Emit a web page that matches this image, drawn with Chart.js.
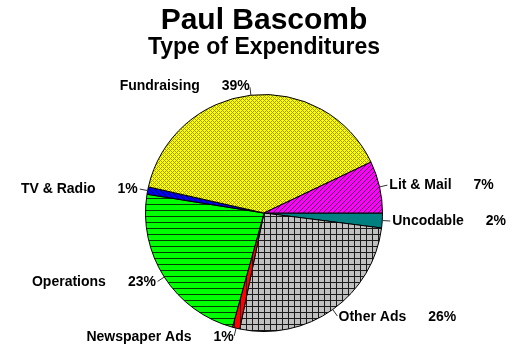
<!DOCTYPE html>
<html>
<head>
<meta charset="utf-8">
<title>Paul Bascomb - Type of Expenditures</title>
<script src="https://cdn.jsdelivr.net/npm/chart.js@4.4.1/dist/chart.umd.min.js"></script>
<style>
    body { margin: 0; background: #fff; }
    #wrap { width: 527px; height: 350px; }
</style>
</head>
<body>
<div id="wrap"><canvas id="pieChart" width="527" height="350"></canvas></div>
<script>
// Chart data (clockwise from 3 o'clock)
const categories = ['Uncodable', 'Other Ads', 'Newspaper Ads', 'Operations', 'TV & Radio', 'Fundraising', 'Lit & Mail'];
const percents = [2, 26, 1, 23, 1, 39, 7];

const FONT = '"Liberation Sans", Arial, Helvetica, sans-serif';

// Build a small repeating fill pattern
function makePattern(size, bg, fg, isInk) {
    const c = document.createElement('canvas');
    c.width = size;
    c.height = size;
    const g = c.getContext('2d');
    g.fillStyle = bg;
    g.fillRect(0, 0, size, size);
    g.fillStyle = fg;
    for (let y = 0; y < size; y++) {
        for (let x = 0; x < size; x++) {
            if (isInk(x, y, size)) g.fillRect(x, y, 1, 1);
        }
    }
    return g.createPattern(c, 'repeat');
}

const fills = {
    'Uncodable': '#008080',
    'Other Ads': makePattern(6, '#c0c0c0', '#1a1a1a', (x, y) => x === 0 || y === 0),
    'Newspaper Ads': makePattern(6, '#ff0000', '#400000', (x) => x === 0),
    'Operations': makePattern(6, '#00ff00', '#004000', (x, y) => y === 0),
    'TV & Radio': makePattern(5, '#0000ff', '#000030', (x, y, s) => ((x - y) % s + s) % s === 0),
    'Fundraising': makePattern(4, '#ffff00', '#9c9c14', (x, y, s) => (x + y) % s === 0 || ((x - y) % s + s) % s === 0),
    'Lit & Mail': makePattern(5, '#ff00ff', '#400040', (x, y, s) => (x + y) % s === 0)
};

// Outside labels with short leader lines
const sliceLabels = {
    id: 'sliceLabels',
    afterDatasetsDraw(chart) {
        const ctx = chart.ctx;
        const meta = chart.getDatasetMeta(0);
        ctx.save();
        ctx.font = 'bold 14px ' + FONT;
        ctx.textBaseline = 'middle';
        ctx.fillStyle = '#000';
        ctx.strokeStyle = '#333';
        ctx.lineWidth = 1;
        meta.data.forEach((arc, i) => {
            const p = arc.getProps(['x', 'y', 'startAngle', 'endAngle', 'outerRadius'], true);
            const mid = (p.startAngle + p.endAngle) / 2;
            const cos = Math.cos(mid), sin = Math.sin(mid);
            const ex = p.x + cos * p.outerRadius, ey = p.y + sin * p.outerRadius;
            ctx.beginPath();
            ctx.moveTo(ex, ey);
            ctx.lineTo(ex + cos * 8, ey + sin * 8);
            ctx.stroke();

            const ax = ex + cos * 10, ay = ey + sin * 9;
            const name = categories[i];
            const pct = percents[i] + '%';
            const gap = 22;
            if (cos >= 0) {
                ctx.textAlign = 'left';
                ctx.fillText(name, ax, ay);
                ctx.fillText(pct, ax + ctx.measureText(name).width + gap, ay);
            } else {
                ctx.textAlign = 'right';
                ctx.fillText(pct, ax, ay);
                ctx.fillText(name, ax - ctx.measureText(pct).width - gap, ay);
            }
        });
        ctx.restore();
    }
};

const ctx = document.getElementById('pieChart').getContext('2d');
const chart = new Chart(ctx, {
    type: 'pie',
    data: {
        labels: categories,
        datasets: [{
            data: percents,
            backgroundColor: categories.map(c => fills[c]),
            borderColor: '#000',
            borderWidth: 1
        }]
    },
    options: {
        responsive: false,
        animation: false,
        rotation: 90,
        layout: {
            padding: { top: 0, bottom: 18, left: 1, right: 0 }
        },
        plugins: {
            legend: { display: false },
            tooltip: { enabled: false },
            title: {
                display: true,
                text: 'Paul Bascomb',
                color: '#000',
                font: { family: FONT, size: 30, weight: 'bold', lineHeight: 1 },
                padding: { top: 6, bottom: 0 }
            },
            subtitle: {
                display: true,
                text: 'Type of Expenditures',
                color: '#000',
                font: { family: FONT, size: 23, weight: 'bold', lineHeight: 1 },
                padding: { top: 0, bottom: 35 }
            }
        }
    },
    plugins: [sliceLabels]
});
</script>
</body>
</html>
